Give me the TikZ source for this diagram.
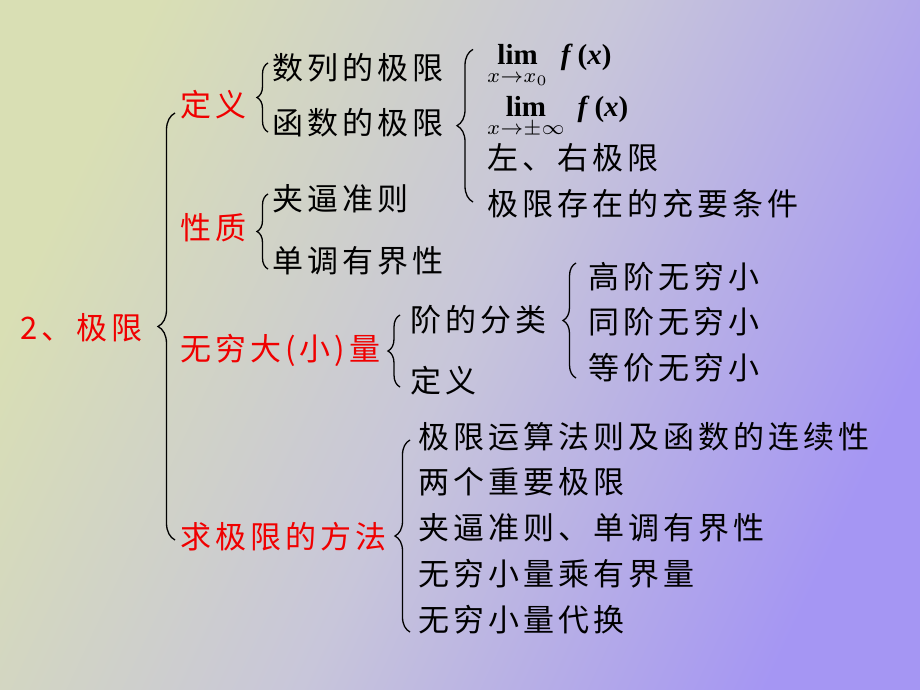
\documentclass[tikz,border=0pt]{standalone}
\usepackage{amsmath}
\usepackage{fontspec}
\newfontfamily\cjk[LetterSpace=13]{Noto Sans CJK SC}
\newfontfamily\tms{Liberation Serif}
\usetikzlibrary{decorations.pathreplacing}

\definecolor{bgyellow}{HTML}{D9DFB4}
\definecolor{bgmid}{HTML}{C8C6DA}
\definecolor{bgpurple}{HTML}{A596F3}
\definecolor{topicred}{HTML}{F00000}

\newcommand{\limtext}[1]{\scalebox{2.9}{$\mathop{\text{\tms\bfseries lim}}\limits_{#1}\;\text{\tms\bfseries\itshape f\/\,\upshape(\itshape x\/\upshape)}$}}

\tikzset{
  item/.style={anchor=west, inner sep=0pt, font=\cjk\fontsize{31}{36}\selectfont},
  topic/.style={item, text=topicred},
  limit/.style={anchor=base west, inner sep=0pt},
  brc/.style={decorate, decoration={brace, amplitude=#1}, line width=1.3pt},
  brc/.default=12pt,
}

\begin{document}
\begin{tikzpicture}[x=1pt, y=-1pt]
    % Background
    \shade[top color=bgyellow, bottom color=bgpurple, middle color=bgmid, shading angle=65] (0,0) rectangle (920,690);
    \useasboundingbox (0,0) rectangle (920,690);

    % Root and main branches
    \node[topic] (root) at (20,328) {2、极限};
    \node[topic] (def) at (180,105) {定义};
    \node[topic] (prop) at (180,228) {性质};
    \node[topic] (inf) at (180,350) {无穷大\hspace{4pt}(小)\hspace{4pt}量};
    \node[topic] (meth) at (180,537) {求极限的方法};
    \draw[brc=17pt] ([xshift=-5pt,yshift=-3pt]meth.west) -- ([xshift=-5pt,yshift=-8pt]def.west);

    % Definition
    \node[item] (seq) at (272,68) {数列的极限};
    \node[item] (fun) at (272,123) {函数的极限};
    \draw[brc=11pt] ([xshift=-4pt,yshift=-9pt]fun.west) -- ([xshift=-4pt,yshift=5pt]seq.west);

    \node[limit] (lima) at (487,65) {\limtext{x\to x_0}};
    \node[limit] (limb) at (487,117) {\limtext{x\to\pm\infty}};
    \node[item] (side) at (487,158) {左、右极限};
    \node[item] (cond) at (487,204) {极限存在的充要条件};
    \draw[brc=16pt] ([xshift=-14pt,yshift=2pt]cond.west) -- ([xshift=-14pt,yshift=-5pt]lima.north west);

    % Properties
    \node[item] (squeeze) at (272,199) {夹逼准则};
    \node[item] (mono) at (272,261) {单调有界性};
    \draw[brc=11pt] ([xshift=-4pt,yshift=-8pt]mono.west) -- ([xshift=-4pt,yshift=5pt]squeeze.west);

    % Infinitesimals
    \node[item] (order) at (410,320) {阶的分类};
    \node[item] (idef) at (410,381) {定义};
    \draw[brc] ([xshift=-10pt,yshift=-6pt]idef.west) -- ([xshift=-10pt,yshift=5pt]order.west);

    \node[item] (high) at (588,277) {高阶无穷小};
    \node[item] (same) at (588,322) {同阶无穷小};
    \node[item] (equiv) at (588,368) {等价无穷小};
    \draw[brc=13pt] ([xshift=-12pt,yshift=-10pt]equiv.west) -- ([xshift=-12pt,yshift=14pt]high.west);

    % Methods
    \node[item] (m1) at (418,437) {极限运算法则及函数的连续性};
    \node[item] (m2) at (418,482) {两个重要极限};
    \node[item] (m3) at (418,528) {夹逼准则、单调有界性};
    \node[item] (m4) at (418,574) {无穷小量乘有界量};
    \node[item] (m5) at (418,620) {无穷小量代换};
    \draw[brc=15pt] ([xshift=-8pt,yshift=-12pt]m5.west) -- ([xshift=-8pt,yshift=-3pt]m1.west);

\end{tikzpicture}
\end{document}
